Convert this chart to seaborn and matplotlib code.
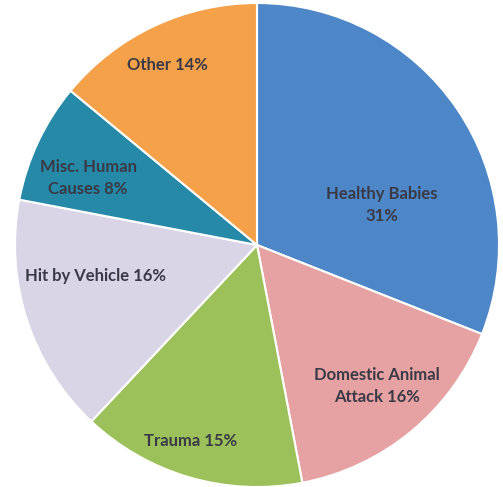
import matplotlib
matplotlib.use("Agg")
import matplotlib.pyplot as plt
import seaborn as sns

categories = ["Healthy Babies", "Domestic Animal Attack", "Trauma",
              "Hit by Vehicle", "Misc. Human Causes", "Other"]
values = [31, 16, 15, 16, 8, 14]
label_texts = ["Healthy Babies\n31%", "Domestic Animal\nAttack 16%", "Trauma 15%",
               "Hit by Vehicle 16%", "Misc. Human\nCauses 8%", "Other 14%"]
colors = ["#4E87C7", "#E6A2A3", "#9CC15A", "#D9D5E6", "#2589A7", "#F5A14A"]

sns.set_theme(style="white")
plt.rcParams['font.family'] = ['Lato', 'DejaVu Sans']

fig = plt.figure(figsize=(5.03, 4.87), dpi=100)
ax = fig.add_axes([0, 0, 1, 1])
palette = sns.color_palette(colors)
wedges, _ = ax.pie(values, colors=palette, startangle=90, counterclock=False,
                   radius=1.0, wedgeprops=dict(edgecolor="white", linewidth=1.5))

label_pos = [(0.517, 0.165), (0.496, -0.583), (-0.273, -0.810),
             (-0.669, -0.128), (-0.698, 0.277), (-0.372, 0.744)]
for txt, (x, y) in zip(label_texts, label_pos):
    ax.text(x, y, txt, ha="center", va="center", fontsize=12,
            fontweight="bold", color="#3A3A46", linespacing=1.4)

ax.set_xlim(-1.062, 1.0165)
ax.set_ylim(-1.0, 1.0124)
ax.set_aspect("equal")
ax.axis("off")
fig.savefig("out.png", dpi=100)
